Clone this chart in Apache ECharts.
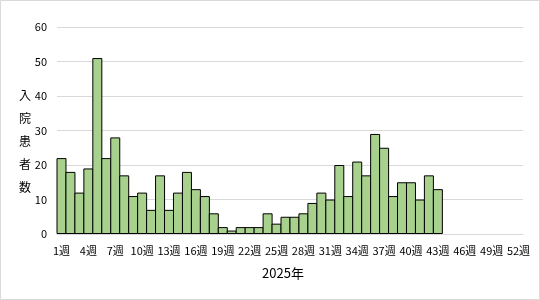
<!DOCTYPE html>
<html>
<head>
<meta charset="utf-8">
<script src="https://cdn.jsdelivr.net/npm/echarts@6/dist/echarts.min.js"></script>
<style>
html,body{margin:0;padding:0;background:#fff;}
#c{width:540px;height:300px;}
</style>
</head>
<body>
<div id="c"></div>
<script>
// Week categories 1..52
const weeks = [];
for (let i = 1; i <= 52; i++) weeks.push(i + '週');
// Hospitalized patients per week (weeks 1-43)
const patients = [22, 18, 12, 19, 51, 22, 28, 17, 11, 12, 7, 17, 7, 12, 18, 13, 11, 6, 2, 1,
  2, 2, 2, 6, 3, 5, 5, 6, 9, 12, 10, 20, 11, 21, 17, 29, 25, 11, 15, 15, 10, 17, 13];
const yTicks = [0, 10, 20, 30, 40, 50, 60];
const xTitle = '2025年';
const yTitle = '入院患者数';

const font = '"Noto Sans CJK JP", "Liberation Sans", sans-serif';
const chart = echarts.init(document.getElementById('c'), null, {renderer: 'canvas'});
chart.setOption({
  animation: false,
  textStyle: {fontFamily: font},
  grid: {left: 57, right: 17, top: 27, bottom: 66, containLabel: false, outerBoundsMode: 'none'},
  xAxis: {
    type: 'category',
    data: weeks,
    axisLine: {show: true, lineStyle: {color: '#D9D9D9', width: 1}},
    axisTick: {show: false},
    axisLabel: {interval: 2, color: '#000', fontSize: 11, margin: 11, fontFamily: font},
    name: xTitle,
    nameLocation: 'middle',
    nameGap: 33,
    nameTextStyle: {color: '#000', fontSize: 13, fontFamily: font, padding: [0, 14, 0, 0]}
  },
  yAxis: {
    type: 'value',
    min: yTicks[0],
    max: yTicks[yTicks.length - 1],
    interval: 10,
    axisLine: {show: false},
    axisTick: {show: false},
    splitLine: {lineStyle: {color: '#D9D9D9', width: 1}},
    axisLabel: {color: '#000', fontSize: 11, margin: 10, fontFamily: font}
  },
  series: [{
    type: 'bar',
    data: patients,
    barWidth: 10,
    barGap: 0,
    itemStyle: {color: '#A9D18E', borderColor: '#000', borderWidth: 1}
  }],
  graphic: [{
    type: 'rect',
    shape: {x: 0.5, y: 0.5, width: 539, height: 299},
    style: {fill: 'none', stroke: '#D9D9D9', lineWidth: 1},
    silent: true
  }, {
    type: 'text',
    left: 19,
    top: 84,
    style: {
      text: yTitle.split('').join('\n'),
      fill: '#000',
      font: '12px ' + font,
      lineHeight: 23,
      align: 'left'
    },
    silent: true
  }]
});
</script>
</body>
</html>
